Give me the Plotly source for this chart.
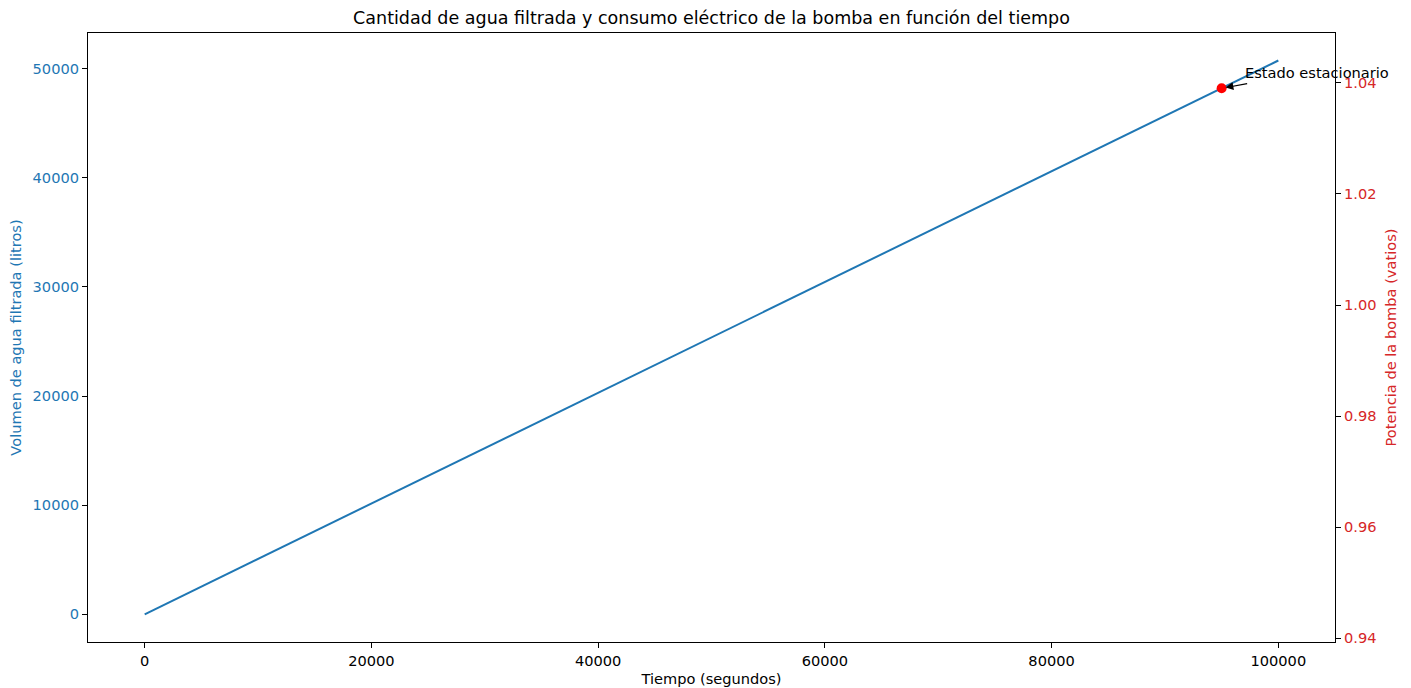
import plotly.graph_objects as go

# Tiempo (s) y volumen acumulado de agua filtrada (L)
tiempo = [0, 20000, 40000, 60000, 80000, 100000]
volumen = [0, 10150, 20300, 30450, 40600, 50750]

# Punto de estado estacionario
t_estacionario = [95000]
v_estacionario = [48200]

x_ticks = [0, 20000, 40000, 60000, 80000, 100000]
y_ticks = [0, 10000, 20000, 30000, 40000, 50000]
y2_ticks = [0.94, 0.96, 0.98, 1.00, 1.02, 1.04]

AZUL = "#1f77b4"
ROJO = "#d62728"
FONT = "DejaVu Sans, sans-serif"
FS = 14.6

fig = go.Figure()
fig.add_trace(go.Scatter(x=tiempo, y=volumen, mode="lines",
                         line=dict(color=AZUL, width=2), showlegend=False,
                         hoverinfo="skip"))
fig.add_trace(go.Scatter(x=t_estacionario, y=v_estacionario, mode="markers",
                         marker=dict(color="#ff0000", size=10), showlegend=False))
# eje de potencia
fig.add_trace(go.Scatter(x=[], y=[], yaxis="y2", mode="lines",
                         line=dict(color=ROJO), showlegend=False))

# flecha y texto del estado estacionario
fig.add_annotation(x=t_estacionario[0], y=v_estacionario[0], xref="x", yref="y",
                   text="", showarrow=True, arrowhead=2, arrowsize=1.3,
                   arrowwidth=1.2, arrowcolor="black", ax=27, ay=-5, standoff=4)
fig.add_annotation(x=96900, y=49650, xref="x", yref="y", text="Estado estacionario",
                   showarrow=False, xanchor="left", yanchor="middle",
                   font=dict(family=FONT, size=FS, color="black"))

fig.update_layout(
    width=1411, height=688,
    margin=dict(l=88, r=76, t=33, b=46),
    paper_bgcolor="white", plot_bgcolor="white",
    font=dict(family=FONT, size=FS, color="black"),
    title=dict(text="Cantidad de agua filtrada y consumo eléctrico de la bomba en función del tiempo",
               x=0.5, xref="paper", y=0.974, yanchor="middle",
               font=dict(family=FONT, size=17.5, color="black")),
    xaxis=dict(range=[-5000, 105000], tickvals=x_ticks, tickformat="d",
               automargin=False,
               showgrid=False, zeroline=False, showline=True, mirror=True,
               linecolor="black", linewidth=1.1, ticks="outside", ticklen=5,
               tickcolor="black", tickwidth=1.1,
               title=dict(text="Tiempo (segundos)", standoff=6,
                          font=dict(size=FS, color="black"))),
    yaxis=dict(range=[-2540, 53270], tickvals=y_ticks, tickformat="d",
               automargin=False,
               showgrid=False, zeroline=False, showline=True,
               linecolor="black", linewidth=1.1, ticks="outside", ticklen=5,
               tickcolor="black", tickwidth=1.1, tickfont=dict(color=AZUL),
               title=dict(text="Volumen de agua filtrada (litros)", standoff=7,
                          font=dict(size=FS, color=AZUL))),
    yaxis2=dict(range=[0.9393, 1.049], tickvals=y2_ticks, tickformat=".2f",
                overlaying="y", side="right", anchor="x", automargin=False,
                showgrid=False, zeroline=False, showline=True,
                linecolor="black", linewidth=1.1, ticks="outside", ticklen=5,
                tickcolor="black", tickwidth=1.1, tickfont=dict(color=ROJO),
                title=dict(text="Potencia de la bomba (vatios)", standoff=10,
                           font=dict(size=FS, color=ROJO))),
)

fig.write_html("out.html")
